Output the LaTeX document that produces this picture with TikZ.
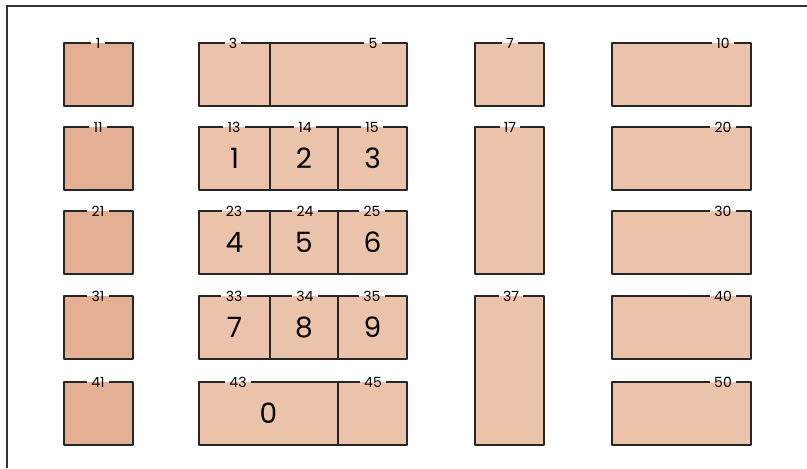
\documentclass[tikz,border=0pt]{standalone}
\usepackage{fontspec}
\setsansfont{Poppins}
\definecolor{keytan}{RGB}{235,194,170}
\definecolor{keytanD}{RGB}{227,176,148}

\begin{document}
\begin{tikzpicture}[
  x=0.75pt, y=-0.75pt,
  font=\sffamily,
  key/.style={inner sep=0pt, outer sep=0pt, anchor=north west},
  tag/.style={font=\sffamily\fontsize{10.5}{12}\selectfont, inner sep=3pt},
  digit/.style={font=\sffamily\fontsize{21}{24}\selectfont},
  rim/.style={line width=1.5pt, black!85, line join=round},
  frame/.style={line width=1.3pt, black!80},
]
  \useasboundingbox (0,0) rectangle (807,468);
  \draw[frame] (7,468) -- (7,6) -- (807,6);

  % key caps: number / left / top / width / height / label offset / fill
  \foreach \n/\x/\y/\w/\h/\lx/\c in {
      1/64/43/69/63/34/keytanD, 11/64/127/69/63/34/keytanD,
      21/64/211/69/63/34/keytanD, 31/64/296/69/63/34/keytanD,
      41/64/382/69/63/34/keytanD,
      3/199/43/71/63/34/keytan, 5/270/43/137/63/103/keytan,
      13/199/127/71/63/35/keytan, 14/270/127/68/63/35/keytan, 15/338/127/69/63/34/keytan,
      23/199/211/71/63/35/keytan, 24/270/211/68/63/35/keytan, 25/338/211/69/63/34/keytan,
      33/199/296/71/63/35/keytan, 34/270/296/68/63/35/keytan, 35/338/296/69/63/34/keytan,
      43/199/382/139/63/39/keytan, 45/338/382/69/63/35/keytan,
      7/475/43/69/63/35/keytan, 17/475/127/69/147/35/keytan,
      37/475/296/69/149/36/keytan,
      10/612/43/139/63/111/keytan, 20/612/127/139/63/111/keytan,
      30/612/211/139/63/111/keytan, 40/612/296/139/63/111/keytan,
      50/612/382/139/63/111/keytan}
  {
    \node[key, fill=\c, minimum width=\w*0.75pt, minimum height=\h*0.75pt]
      (k\n) at (\x,\y) {};
    \node[tag] (t\n) at (\x+\lx,\y) {\n};
    \draw[rim] (t\n.west) -- (k\n.north west) -- (k\n.south west)
      -- (k\n.south east) -- (k\n.north east) -- (t\n.east);
  }

  % digits on the number pad
  \foreach \n/\d in {13/1, 14/2, 15/3, 23/4, 24/5, 25/6, 33/7, 34/8, 35/9, 43/0}
    \node[digit] (d\n) at (k\n) {\d};
\end{tikzpicture}
\end{document}
